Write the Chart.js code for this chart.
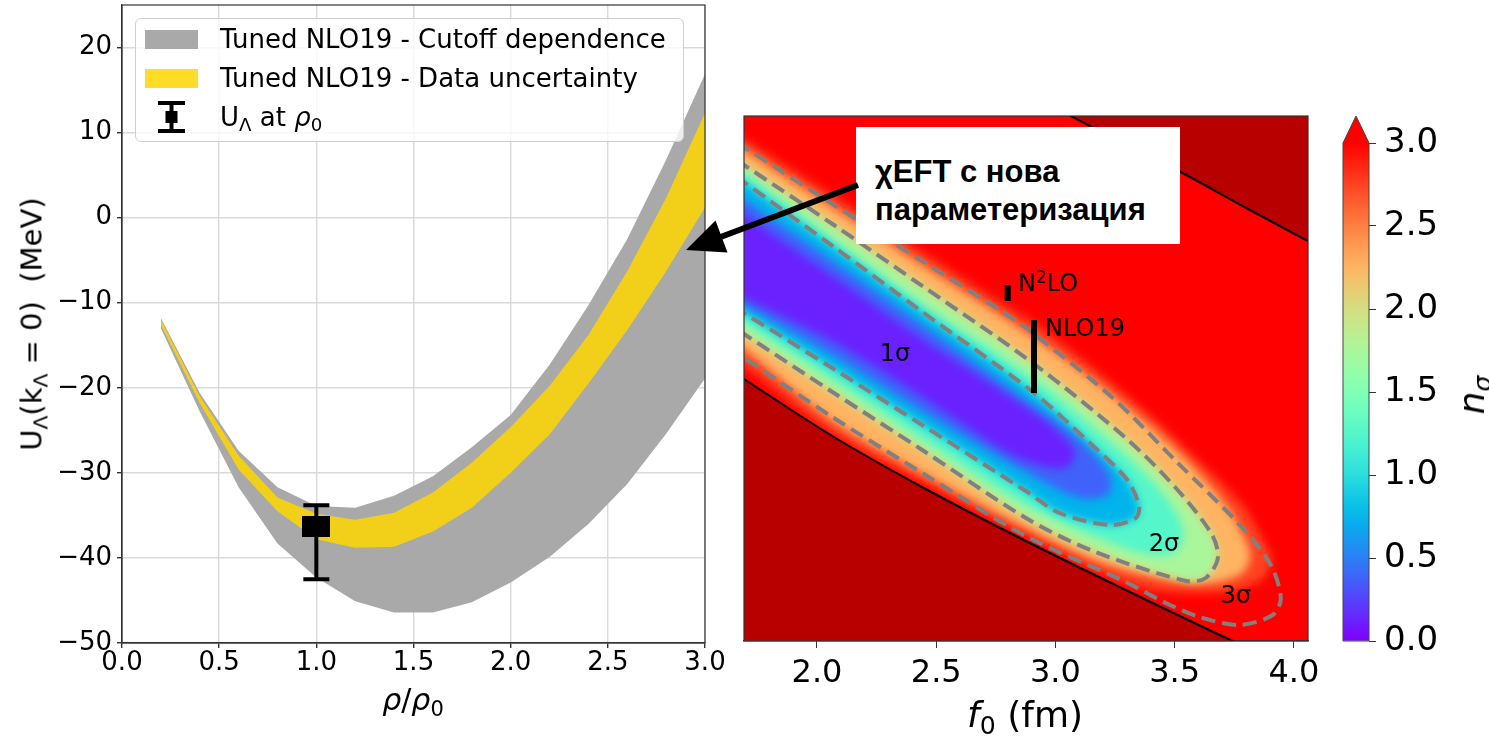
<!DOCTYPE html>
<html lang="bg">
<head>
    <meta charset="UTF-8">
    <title>U_Λ при ρ0 и χEFT параметеризация</title>
    <script src="https://cdn.jsdelivr.net/npm/chart.js@4.4.1/dist/chart.umd.min.js"></script>
    <style>
        body {
            margin: 0;
            width: 1489px;
            height: 738px;
            position: relative;
            overflow: hidden;
            background: #fff;
            font-family: 'DejaVu Sans', sans-serif;
            color: #000;
        }
        canvas { position: absolute; }
        #left-chart { left: 0; top: 0; }
        #field-chart, #map-chart { left: 720px; top: 100px; }
        #cbar-chart { left: 1335px; top: 100px; }
        .txt { position: absolute; white-space: nowrap; line-height: 1; }
        sub { font-size: 0.7em; vertical-align: -0.28em; line-height: 0; }
        sup { font-size: 0.7em; vertical-align: 0.45em; line-height: 0; }
        .legend {
            position: absolute;
            left: 135px;
            top: 18px;
            width: 547px;
            height: 122px;
            border: 1px solid #cfcfcf;
            border-radius: 6px;
            background: rgba(255, 255, 255, 0.8);
        }
        .legend-item {
            position: absolute;
            left: 9px;
            height: 30px;
            display: flex;
            align-items: center;
            font-size: 26px;
        }
        .legend-patch { width: 53px; height: 19px; margin-right: 22px; flex: none; }
        .note-box {
            position: absolute;
            left: 856px;
            top: 127px;
            width: 305px;
            height: 91px;
            padding: 26px 0 0 19px;
            background: #fff;
            font-family: 'Liberation Sans', Arial, sans-serif;
            font-weight: bold;
            font-size: 31px;
            line-height: 38px;
        }
        .map-note { font-size: 24px; }
    </style>
</head>
<body>
    <canvas id="left-chart" width="745" height="738"></canvas>
    <canvas id="field-chart" width="620" height="638"></canvas>
    <canvas id="map-chart" width="620" height="638"></canvas>
    <canvas id="cbar-chart" width="154" height="638"></canvas>

    <div class="legend">
        <div class="legend-item" style="top:5px"><span class="legend-patch" style="background:#a9a9a9"></span><span>Tuned NLO19 - Cutoff dependence</span></div>
        <div class="legend-item" style="top:44px"><span class="legend-patch" style="background:rgba(255,215,0,0.85)"></span><span>Tuned NLO19 - Data uncertainty</span></div>
        <div class="legend-item" style="top:83px">
            <svg width="53" height="32" style="margin-right:22px;flex:none">
                <line x1="26.5" y1="1" x2="26.5" y2="31" stroke="#000" stroke-width="4"/>
                <line x1="13" y1="2" x2="40" y2="2" stroke="#000" stroke-width="4"/>
                <line x1="13" y1="30" x2="40" y2="30" stroke="#000" stroke-width="4"/>
                <rect x="20.5" y="10" width="12" height="12" fill="#000"/>
            </svg><span>U<sub>Λ</sub> at <i>ρ</i><sub>0</sub></span>
        </div>
    </div>

    <div class="txt" style="left:32px;top:324px;font-size:29px;transform:translate(-50%,-50%) rotate(-90deg)">U<sub>Λ</sub>(k<sub>Λ</sub> = 0)&nbsp; (MeV)</div>
    <div class="txt" style="left:413px;top:700px;font-size:30px;transform:translate(-50%,-50%)"><i>ρ</i>/<i>ρ</i><sub>0</sub></div>

    <div class="txt" style="left:1025px;top:715px;font-size:36px;transform:translate(-50%,-50%)"><i>f</i><sub>0</sub> (fm)</div>
    <div class="txt" style="left:1472px;top:395px;font-size:36px;transform:translate(-50%,-50%) rotate(-90deg)"><i>n</i><sub><i>σ</i></sub></div>

    <div class="txt map-note" style="left:895px;top:353px;transform:translate(-50%,-50%)">1σ</div>
    <div class="txt map-note" style="left:1164px;top:543px;transform:translate(-50%,-50%)">2σ</div>
    <div class="txt map-note" style="left:1236px;top:595px;transform:translate(-50%,-50%)">3σ</div>
    <div class="txt map-note" style="left:1018px;top:283px;transform:translate(0,-50%)">N<sup>2</sup>LO</div>
    <div class="txt map-note" style="left:1045px;top:328px;transform:translate(0,-50%)">NLO19</div>

    <div class="note-box">χEFT с нова<br>параметеризация</div>

    <svg width="1489" height="738" style="position:absolute;left:0;top:0;pointer-events:none">
        <line x1="858" y1="185" x2="718" y2="238" stroke="#000" stroke-width="6"/>
        <polygon points="686,250 715.5,220.6 727.5,252.4" fill="#000"/>
    </svg>

    <script>
        // --- Ляв панел: U_Λ(ρ) ---
        const rho = [0.2, 0.4, 0.6, 0.8, 1.0, 1.2, 1.4, 1.6, 1.8, 2.0, 2.2, 2.4, 2.6, 2.8, 3.0];
        const cutoffHigh = [-11.8, -20.6, -27.4, -31.7, -33.9, -34.1, -32.7, -30.4, -27.0, -23.2, -17.3, -10.3, -2.5, 6.8, 16.9];
        const cutoffLow  = [-13.0, -22.8, -31.7, -38.3, -42.3, -45.1, -46.4, -46.4, -45.2, -42.9, -39.9, -36.0, -31.3, -25.4, -18.9];
        const dataHigh   = [-12.0, -21.0, -28.0, -32.9, -34.8, -35.5, -34.7, -32.3, -28.8, -24.6, -19.8, -13.8, -6.3, 2.3, 12.3];
        const dataLow    = [-12.6, -21.8, -29.6, -34.5, -37.8, -38.8, -38.7, -36.9, -34.1, -30.0, -25.5, -19.5, -13.2, -6.3, 1.2];

        const pointRho = [1.0];
        const pointU = [-36.3];
        const pointErrLow = [-42.5];
        const pointErrHigh = [-33.8];

        const leftTicksX = [0, 0.5, 1.0, 1.5, 2.0, 2.5, 3.0];
        const leftTicksY = [-50, -40, -30, -20, -10, 0, 10, 20];

        // --- Десен панел: f0 и n_sigma ---
        const mapTicksX = [2.0, 2.5, 3.0, 3.5, 4.0];
        const nSigmaTicks = [0, 0.5, 1.0, 1.5, 2.0, 2.5, 3.0];

        // затворени контури на n_sigma (f0, y)
        const fillLevels = [3.0, 2.5, 2.0, 1.5, 1.0, 0.5, 0.25];
        const fillShapes = [
            [[1.593,5.17],[1.694,5.02],[2.071,4.45],[2.448,3.88],[2.767,3.39],[2.935,3.14],[3.211,2.63],[3.396,2.26],[3.576,1.86],[3.785,1.36],[3.882,0.96],[3.907,0.81],[3.865,0.61],[3.714,0.49],[3.408,0.51],[3.186,0.69],[2.876,1.06],[2.448,1.58],[2.071,2.07],[1.694,2.75],[1.593,2.91]],
            [[1.593,5.07],[1.694,4.91],[2.071,4.33],[2.448,3.75],[2.876,3.09],[3.211,2.51],[3.505,1.91],[3.714,1.36],[3.806,0.96],[3.815,0.81],[3.773,0.66],[3.647,0.58],[3.438,0.63],[3.186,0.79],[2.876,1.13],[2.448,1.67],[2.071,2.19],[1.694,2.92],[1.593,3.08]],
            [[1.593,4.92],[1.694,4.76],[2.071,4.16],[2.448,3.54],[2.905,2.78],[3.295,2.03],[3.505,1.53],[3.655,1.07],[3.681,0.83],[3.630,0.63],[3.547,0.60],[3.157,0.90],[2.876,1.23],[2.448,1.90],[2.071,2.48],[1.694,3.07],[1.593,3.23]],
            [[1.593,4.84],[1.694,4.68],[2.071,4.01],[2.448,3.36],[2.905,2.63],[3.270,1.91],[3.438,1.51],[3.521,1.21],[3.534,1.01],[3.479,0.86],[3.312,0.91],[2.876,1.36],[2.448,2.01],[2.071,2.60],[1.694,3.18],[1.593,3.34]],
            [[1.593,4.77],[1.694,4.59],[2.071,3.94],[2.448,3.28],[2.905,2.49],[3.153,1.96],[3.295,1.63],[3.350,1.36],[3.337,1.23],[3.228,1.16],[3.018,1.28],[2.876,1.50],[2.448,2.15],[2.071,2.72],[1.694,3.28],[1.593,3.43]],
            [[1.593,4.56],[1.694,4.41],[2.071,3.79],[2.448,3.15],[2.876,2.41],[3.102,2.01],[3.228,1.66],[3.220,1.46],[3.102,1.43],[2.876,1.69],[2.448,2.29],[2.071,2.85],[1.694,3.36],[1.593,3.51]],
            [[1.593,4.41],[1.694,4.26],[2.071,3.64],[2.448,3.01],[2.767,2.51],[2.977,2.16],[3.081,1.89],[3.039,1.73],[2.893,1.79],[2.767,1.93],[2.448,2.43],[2.071,2.99],[1.694,3.43],[1.593,3.57]]
        ];

        // пунктирни контури 1σ, 2σ, 3σ
        const sigma1 = [[1.593,4.77],[1.694,4.59],[2.071,3.94],[2.448,3.28],[2.905,2.49],[3.153,1.96],[3.295,1.63],[3.350,1.36],[3.337,1.23],[3.228,1.16],[3.018,1.28],[2.876,1.50],[2.448,2.15],[2.071,2.72],[1.694,3.28],[1.593,3.43]];
        const sigma2 = [[1.593,4.92],[1.694,4.76],[2.071,4.16],[2.448,3.54],[2.905,2.78],[3.295,2.03],[3.505,1.53],[3.655,1.07],[3.681,0.83],[3.630,0.63],[3.547,0.60],[3.157,0.90],[2.876,1.23],[2.448,1.90],[2.071,2.48],[1.694,3.07],[1.593,3.23]];
        const sigma3 = [[1.593,5.09],[1.694,4.94],[2.071,4.36],[2.448,3.79],[2.767,3.31],[2.905,3.08],[3.241,2.43],[3.505,1.80],[3.785,1.13],[3.903,0.76],[3.945,0.43],[3.911,0.26],[3.769,0.16],[3.605,0.24],[3.463,0.38],[3.295,0.59],[2.876,1.05],[2.448,1.67],[2.071,2.23],[1.694,2.83],[1.593,2.98]];

        // граници на забранените области
        const boundHigh = [[3.00,5.33],[3.25,5.02],[3.517,4.70],[3.80,4.33],[4.108,3.935]];
        const boundLow = [[1.593,2.78],[1.694,2.62],[2.071,2.04],[2.448,1.53],[2.876,1.00],[3.295,0.51],[3.743,0.00],[3.90,-0.17]];

        // модели N2LO и NLO19
        const modelF0 = [2.80, 2.91];
        const modelYLow = [3.40, 2.48];
        const modelYHigh = [3.56, 3.21];

        Chart.defaults.font.family = "'DejaVu Sans', sans-serif";
        Chart.defaults.color = '#000';
        Chart.defaults.animation = false;

        function rainbow(v) {
            const t = Math.min(Math.max(v / 3, 0), 1);
            const r = Math.min(1, Math.abs(2 * t - 0.5));
            const g = Math.sin(Math.PI * t);
            const b = Math.cos(Math.PI * t / 2);
            return `rgb(${Math.round(r * 255)},${Math.round(g * 255)},${Math.round(b * 255)})`;
        }

        const toXY = pts => pts.map(p => ({ x: p[0], y: p[1] }));
        const closed = pts => toXY(pts.concat([pts[0]]));
        const minus = v => (v < 0 ? '\u2212' + Math.abs(v) : String(v));
        // фиксиран размер на оста, без резерв за крайните надписи
        const fixHeight = h => s => { s.height = h; s.paddingLeft = 0; s.paddingRight = 0; };
        const fixWidth = w => s => { s.width = w; s.paddingTop = 0; s.paddingBottom = 0; };

        // ---------- ляв график ----------
        const squareMark = document.createElement('canvas');
        squareMark.width = 28;
        squareMark.height = 21;
        squareMark.getContext('2d').fillRect(0, 0, 28, 21);

        const errorBars = {
            id: 'errorBars',
            afterDatasetsDraw(chart) {
                const { ctx, scales: { x, y } } = chart;
                ctx.save();
                ctx.strokeStyle = '#000';
                ctx.lineWidth = 4;
                pointRho.forEach((r, i) => {
                    const px = x.getPixelForValue(r);
                    const lo = y.getPixelForValue(pointErrLow[i]);
                    const hi = y.getPixelForValue(pointErrHigh[i]);
                    ctx.beginPath();
                    ctx.moveTo(px, lo); ctx.lineTo(px, hi);
                    ctx.moveTo(px - 13, lo); ctx.lineTo(px + 13, lo);
                    ctx.moveTo(px - 13, hi); ctx.lineTo(px + 13, hi);
                    ctx.stroke();
                });
                ctx.restore();
            }
        };

        const frame = color => ({
            id: 'frame',
            afterDraw(chart) {
                const { ctx, chartArea: a } = chart;
                ctx.save();
                ctx.strokeStyle = color;
                ctx.lineWidth = 1.2;
                ctx.strokeRect(a.left, a.top, a.width, a.height);
                ctx.restore();
            }
        });

        new Chart(document.getElementById('left-chart'), {
            type: 'scatter',
            data: {
                datasets: [
                    { data: rho.map((r, i) => ({ x: r, y: dataHigh[i] })), showLine: true, fill: '+1', backgroundColor: 'rgba(255,215,0,0.85)', borderWidth: 0, pointRadius: 0, order: 1 },
                    { data: rho.map((r, i) => ({ x: r, y: dataLow[i] })), showLine: true, borderWidth: 0, pointRadius: 0, order: 1 },
                    { data: rho.map((r, i) => ({ x: r, y: cutoffHigh[i] })), showLine: true, fill: '+1', backgroundColor: '#a9a9a9', borderWidth: 0, pointRadius: 0, order: 2 },
                    { data: rho.map((r, i) => ({ x: r, y: cutoffLow[i] })), showLine: true, borderWidth: 0, pointRadius: 0, order: 2 },
                    { data: pointRho.map((r, i) => ({ x: r, y: pointU[i] })), pointStyle: squareMark, pointRadius: 14, order: 0 }
                ]
            },
            options: {
                responsive: false,
                layout: { autoPadding: false, padding: { top: 5, right: 40, left: 0, bottom: 0 } },
                plugins: { legend: { display: false }, tooltip: { enabled: false } },
                scales: {
                    x: {
                        type: 'linear', min: 0, max: 3,
                        afterBuildTicks: s => { s.ticks = leftTicksX.map(v => ({ value: v })); },
                        afterFit: fixHeight(95),
                        ticks: { callback: v => v.toFixed(1), font: { size: 26 }, padding: 0, maxRotation: 0 },
                        grid: { color: '#d9d9d9', lineWidth: 1.4, tickColor: '#333', tickLength: 5 },
                        border: { color: '#333', width: 1.2 }
                    },
                    y: {
                        min: -50, max: 25,
                        afterBuildTicks: s => { s.ticks = leftTicksY.map(v => ({ value: v })); },
                        afterFit: fixWidth(122),
                        ticks: { callback: v => minus(v), font: { size: 26 }, padding: 5 },
                        grid: { color: '#d9d9d9', lineWidth: 1.4, tickColor: '#333', tickLength: 5 },
                        border: { color: '#333', width: 1.2 }
                    }
                }
            },
            plugins: [errorBars, frame('#333')]
        });

        // ---------- десен график: оцветено поле ----------
        const softField = {
            id: 'softField',
            beforeDatasetsDraw(chart) {
                const { ctx, chartArea: a } = chart;
                ctx.save();
                ctx.fillStyle = rainbow(3);
                ctx.fillRect(a.left, a.top, a.width, a.height);
                ctx.filter = 'blur(4px)';
            },
            afterDatasetsDraw(chart) { chart.ctx.restore(); }
        };

        new Chart(document.getElementById('field-chart'), {
            type: 'scatter',
            data: {
                datasets: fillShapes.map((shape, i) => ({
                    data: closed(shape),
                    showLine: true,
                    fill: 'shape',
                    backgroundColor: rainbow((fillLevels[i] + (fillLevels[i + 1] ?? 0)) / 2),
                    borderWidth: 0,
                    pointRadius: 0,
                    tension: 0.3,
                    order: 10 - i
                }))
            },
            options: {
                responsive: false,
                layout: { autoPadding: false, padding: { top: 16, right: 32, left: 24, bottom: 97 } },
                plugins: { legend: { display: false }, tooltip: { enabled: false } },
                scales: {
                    x: { type: 'linear', min: 1.694, max: 4.059, display: false },
                    y: { type: 'linear', min: 0, max: 5.25, display: false }
                }
            },
            plugins: [softField]
        });

        // ---------- десен график: граници, контури, модели ----------
        const dashStyle = { borderColor: 'rgb(128,128,128)', borderWidth: 4, borderDash: [14, 7], showLine: true, pointRadius: 0, tension: 0.3, fill: false, order: 2 };

        new Chart(document.getElementById('map-chart'), {
            type: 'scatter',
            data: {
                datasets: [
                    { data: toXY(boundHigh), showLine: true, fill: 'end', backgroundColor: '#b80000', borderColor: '#000', borderWidth: 2, pointRadius: 0, cubicInterpolationMode: 'monotone', order: 5 },
                    { data: toXY(boundLow), showLine: true, fill: 'start', backgroundColor: '#b80000', borderColor: '#000', borderWidth: 2, pointRadius: 0, cubicInterpolationMode: 'monotone', order: 5 },
                    { data: toXY(sigma1), ...dashStyle },
                    { data: toXY(sigma2), ...dashStyle },
                    { data: toXY(sigma3), ...dashStyle },
                    ...modelF0.map((f, i) => ({
                        data: [{ x: f, y: modelYLow[i] }, { x: f, y: modelYHigh[i] }],
                        showLine: true, borderColor: '#000', borderWidth: 6, borderCapStyle: 'butt', pointRadius: 0, order: 0
                    }))
                ]
            },
            options: {
                responsive: false,
                layout: { autoPadding: false, padding: { top: 16, right: 32, left: 24, bottom: 0 } },
                plugins: { legend: { display: false }, tooltip: { enabled: false } },
                scales: {
                    x: {
                        type: 'linear', min: 1.694, max: 4.059,
                        afterBuildTicks: s => { s.ticks = mapTicksX.map(v => ({ value: v })); },
                        afterFit: fixHeight(97),
                        ticks: { callback: v => v.toFixed(1), font: { size: 32 }, padding: 6, maxRotation: 0 },
                        grid: { drawOnChartArea: false, tickColor: '#333', tickLength: 7 },
                        border: { color: '#333', width: 1.2 }
                    },
                    y: { type: 'linear', min: 0, max: 5.25, display: false }
                }
            },
            plugins: [frame('#333')]
        });

        // ---------- цветна скала ----------
        const cbarExtend = {
            id: 'cbarExtend',
            afterDatasetsDraw(chart) {
                const { ctx, chartArea: a } = chart;
                const tip = a.top - 27;
                ctx.save();
                ctx.fillStyle = rainbow(3);
                ctx.beginPath();
                ctx.moveTo(a.left, a.top);
                ctx.lineTo((a.left + a.right) / 2, tip);
                ctx.lineTo(a.right, a.top);
                ctx.closePath();
                ctx.fill();
                ctx.strokeStyle = '#444';
                ctx.lineWidth = 1;
                ctx.beginPath();
                ctx.moveTo(a.left, a.bottom);
                ctx.lineTo(a.left, a.top);
                ctx.lineTo((a.left + a.right) / 2, tip);
                ctx.lineTo(a.right, a.top);
                ctx.lineTo(a.right, a.bottom);
                ctx.closePath();
                ctx.stroke();
                ctx.restore();
            }
        };

        new Chart(document.getElementById('cbar-chart'), {
            type: 'bar',
            data: {
                labels: ['n'],
                datasets: [{
                    data: [[0, 3]],
                    barPercentage: 1,
                    categoryPercentage: 1,
                    borderWidth: 0,
                    backgroundColor: ctx => {
                        const chart = ctx.chart;
                        if (!chart.chartArea) return rainbow(1.5);
                        const y = chart.scales.y;
                        const g = chart.ctx.createLinearGradient(0, y.getPixelForValue(0), 0, y.getPixelForValue(3));
                        for (let k = 0; k <= 30; k++) g.addColorStop(k / 30, rainbow(k / 10));
                        return g;
                    }
                }]
            },
            options: {
                responsive: false,
                layout: { autoPadding: false, padding: { top: 43, right: 0, left: 8, bottom: 97 } },
                plugins: { legend: { display: false }, tooltip: { enabled: false } },
                scales: {
                    x: { display: false },
                    y: {
                        position: 'right', min: 0, max: 3,
                        afterBuildTicks: s => { s.ticks = nSigmaTicks.map(v => ({ value: v })); },
                        afterFit: fixWidth(120),
                        ticks: { callback: v => v.toFixed(1), font: { size: 34 }, padding: 8 },
                        grid: { drawOnChartArea: false, tickColor: '#333', tickLength: 7 },
                        border: { display: false }
                    }
                }
            },
            plugins: [cbarExtend]
        });
    </script>
</body>
</html>
